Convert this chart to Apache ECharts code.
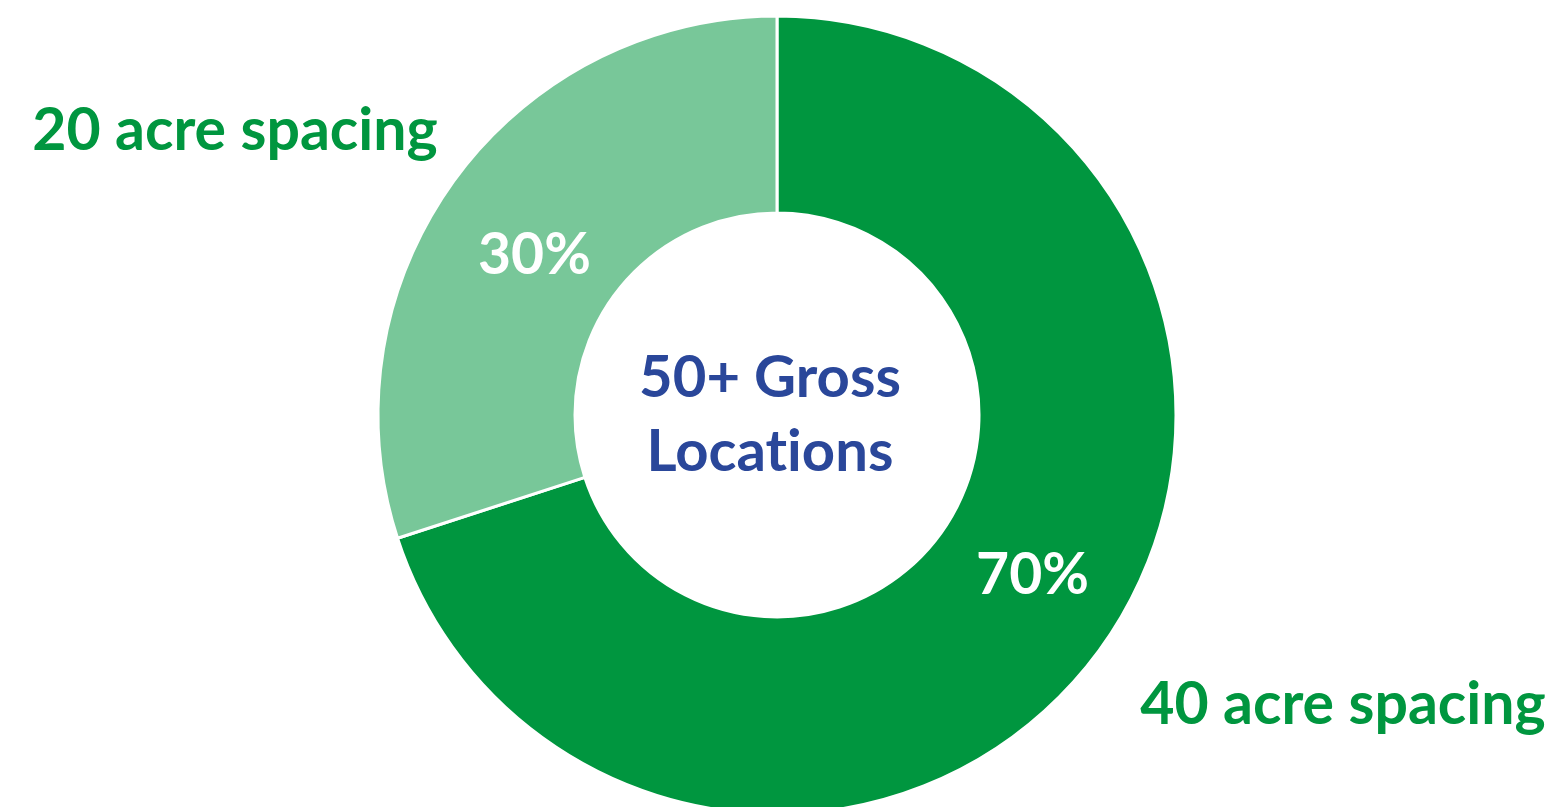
<!DOCTYPE html>
<html>
<head>
<meta charset="utf-8">
<script src="https://cdn.jsdelivr.net/npm/echarts@6/dist/echarts.min.js"></script>
<style>
  html, body { margin: 0; padding: 0; background: #fff; }
  #chart { width: 1548px; height: 807px; }
</style>
</head>
<body>
<div id="chart"></div>
<script>
// data
const spacing_names = ["40 acre spacing", "20 acre spacing"];
const spacing_share = [70, 30];
const center_top = "50+ Gross";
const center_bottom = ["Locat", "ions"]; // split so Lato doesn't draw the "ti" ligature

const dark_green = "#00963F";
const light_green = "#78C799";
const text_blue = "#2A479A";
const font = "Lato, 'Open Sans', sans-serif";

const chart = echarts.init(document.getElementById("chart"), null, { renderer: "canvas" });

// nudges so the % labels sit where the original put them
const label_nudge = [[10, -18], [3, 19]];

chart.setOption({
  animation: false,
  series: [{
    type: "pie",
    center: [777, 415],
    radius: [202, 399],
    startAngle: 90,
    clockwise: true,
    silent: true,
    itemStyle: { borderColor: "#fff", borderWidth: 3 },
    label: {
      show: true,
      position: "inside",
      formatter: "{c}%",
      color: "#fff",
      fontFamily: font,
      fontWeight: "bold",
      fontSize: 57
    },
    labelLine: { show: false },
    labelLayout: function (p) {
      const n = label_nudge[p.dataIndex];
      return { dx: n[0], dy: n[1] };
    },
    data: spacing_names.map((name, i) => ({
      name: name,
      value: spacing_share[i],
      itemStyle: { color: i === 0 ? dark_green : light_green }
    }))
  }],
  graphic: {
    elements: [
      {
        type: "text", x: 770, y: 415,
        style: {
          text: "{t|" + center_top + "}\n" + center_bottom.map(s => "{t|" + s + "}").join(""),
          align: "center", verticalAlign: "middle",
          rich: {
            t: { fill: text_blue, color: text_blue, fontFamily: font, fontWeight: "bold", fontSize: 58, lineHeight: 74 }
          }
        }
      },
      {
        type: "text", x: 235, y: 131,
        style: {
          text: spacing_names[1], fill: dark_green, font: "bold 59px " + font,
          align: "center", verticalAlign: "middle"
        }
      },
      {
        type: "text", x: 1343, y: 705,
        style: {
          text: spacing_names[0], fill: dark_green, font: "bold 59px " + font,
          align: "center", verticalAlign: "middle"
        }
      }
    ]
  }
});
</script>
</body>
</html>
